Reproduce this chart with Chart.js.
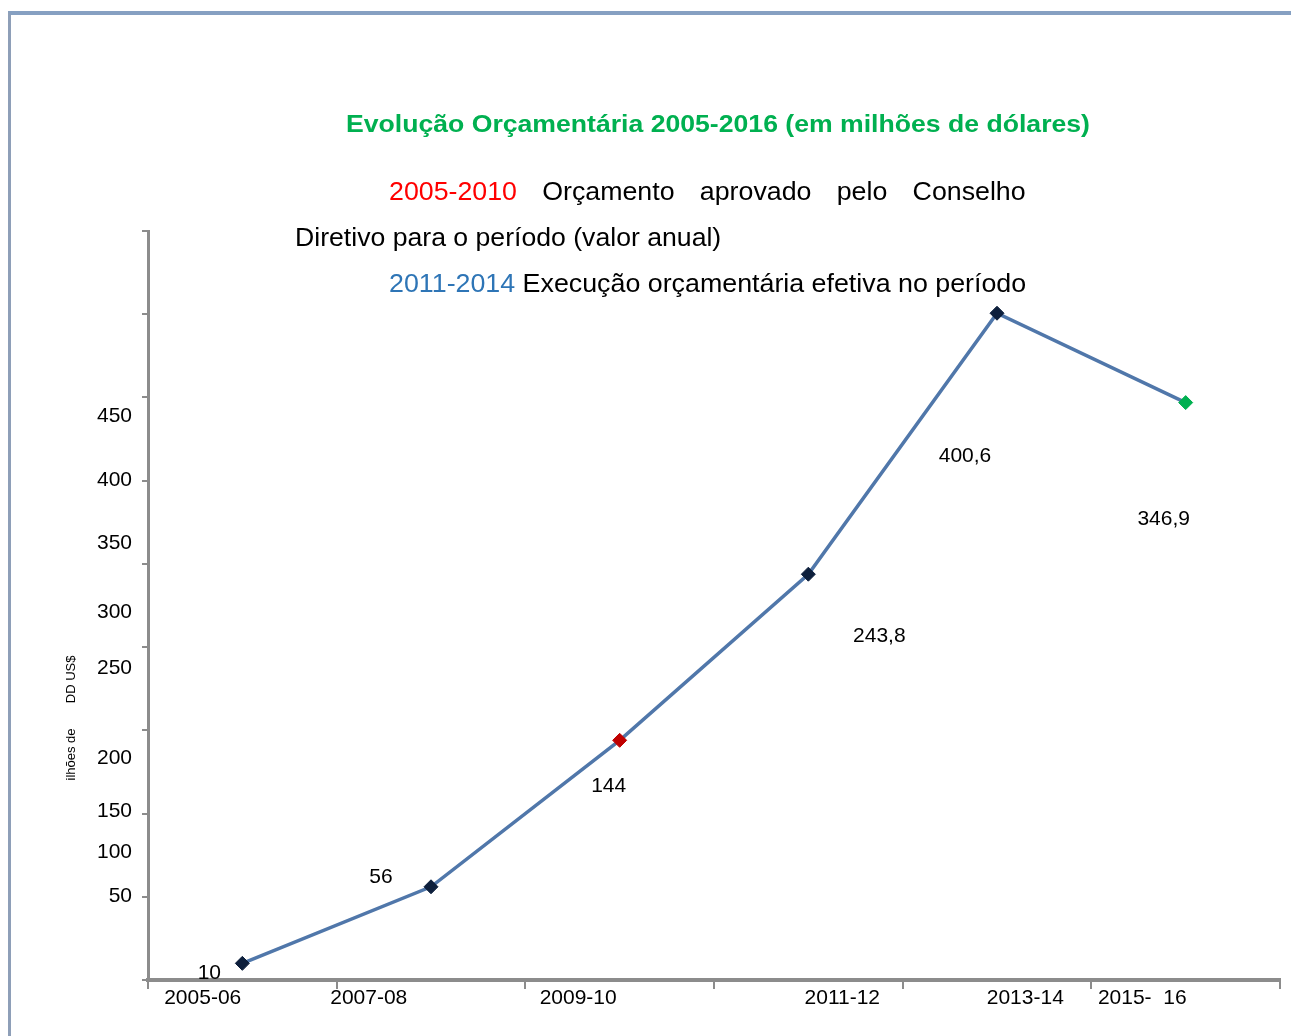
<!DOCTYPE html>
<html>
<head>
<meta charset="utf-8">
<script src="https://cdn.jsdelivr.net/npm/chart.js@4.4.1/dist/chart.umd.min.js"></script>
<style>
  html, body { margin: 0; padding: 0; background: #fff; }
  body { width: 1291px; height: 1036px; position: relative; overflow: hidden;
         font-family: "Liberation Sans", Arial, sans-serif; }
  #frame { position: absolute; left: 8px; top: 11px; right: -10px; bottom: -10px;
           border-top: 4px solid #86a0c2; border-left: 3px solid #8e9fb8; }
  #chart { position: absolute; left: 0; top: 0; }
  .txt { position: absolute; white-space: nowrap; color: #000; transform-origin: 0 50%; }
  #title { left: 346px; top: 111px; font-size: 23px; font-weight: bold; color: #00b050;
           transform: scaleX(1.157); }
  #line1 { left: 389px; width: 595px; top: 177px; font-size: 25px;
           display: flex; justify-content: space-between; transform: scaleX(1.07); }
  #line2 { left: 295px; top: 223px; font-size: 25px; transform: scaleX(1.065); }
  #line3 { left: 389px; top: 269px; font-size: 25px; transform: scaleX(1.072); }
  .red { color: #ff0000; }
  .blue { color: #2e75b6; }
</style>
</head>
<body>
<div id="frame"></div>
<canvas id="chart" width="1291" height="1036"></canvas>
<div class="txt" id="title">Evolução Orçamentária 2005-2016 (em milhões de dólares)</div>
<div class="txt" id="line1"><span class="red">2005-2010</span><span>Orçamento</span><span>aprovado</span><span>pelo</span><span>Conselho</span></div>
<div class="txt" id="line2">Diretivo para o período (valor anual)</div>
<div class="txt" id="line3"><span class="blue">2011-2014</span> Execução orçamentária efetiva no período</div>
<script>
// chart data
const categories = ['2005-06', '2007-08', '2009-10', '2011-12', '2013-14', '2015-16'];
const budget = [10, 56, 144, 243.8, 400.6, 346.9];
const xTickLabels = ['2005-06', '2007-08', '2009-10', '2011-12', '2013-14', '2015-  16'];
const yTickLabels = ['50', '100', '150', '200', '250', '300', '350', '400', '450'];
const yAxisTitle = 'ilhões de       DD US$';

// marker colours per period
const pointColors = ['#0d1f3c', '#0d1f3c', '#c00000', '#0d1f3c', '#0d1f3c', '#00b050'];

// the original labels sit off their ticks; these place them (axis units / px offsets)
const yLabelAt = [50.5, 77, 101.5, 133.5, 187.5, 221, 262.5, 300, 339];
const xLabelAt = [-0.21, 0.67, 1.78, 3.18, 4.15, 4.77];
const valueLabelShift = [[-33, 10], [-50, -10], [-11, 46], [71, 62], [-32, 143], [-22, 117]];

const FONT = '"Liberation Sans", Arial, sans-serif';
const AXIS_GREY = '#8c8c8c';

const labelsPlugin = {
  id: 'looseLabels',
  afterDraw(chart) {
    const { ctx, scales: { x, y } } = chart;
    ctx.save();
    ctx.fillStyle = '#000';
    ctx.font = '21px ' + FONT;
    ctx.textBaseline = 'middle';

    // y tick labels
    ctx.textAlign = 'right';
    yTickLabels.forEach((t, i) => ctx.fillText(t, 132, y.getPixelForValue(yLabelAt[i])));

    // x tick labels
    ctx.textAlign = 'center';
    xTickLabels.forEach((t, i) => ctx.fillText(t, x.getPixelForValue(xLabelAt[i]), y.bottom + 18));

    // value labels
    const meta = chart.getDatasetMeta(0);
    meta.data.forEach((pt, i) => {
      const txt = String(budget[i]).replace('.', ',');
      ctx.fillText(txt, pt.x + valueLabelShift[i][0], pt.y + valueLabelShift[i][1]);
    });

    // rotated axis title
    ctx.font = '13px ' + FONT;
    ctx.translate(71, 718);
    ctx.rotate(-Math.PI / 2);
    ctx.fillText(yAxisTitle, 0, 0);
    ctx.restore();
  }
};

new Chart(document.getElementById('chart'), {
  type: 'line',
  data: {
    labels: categories,
    datasets: [{
      data: budget,
      borderColor: '#5077aa',
      borderWidth: 3.5,
      tension: 0,
      pointStyle: 'rectRot',
      pointRadius: 7,
      pointBackgroundColor: pointColors,
      pointBorderColor: pointColors,
      pointBorderWidth: 1,
      clip: false,
    }]
  },
  options: {
    responsive: false,
    animation: false,
    layout: { padding: { left: 138, right: 11, top: 231, bottom: 46 } },
    plugins: {
      legend: { display: false },
      tooltip: { enabled: false },
    },
    scales: {
      x: {
        type: 'category',
        offset: true,
        ticks: { display: false },
        grid: { offset: true, drawOnChartArea: false, drawTicks: true, tickLength: 9,
                color: AXIS_GREY, lineWidth: 2 },
        border: { color: AXIS_GREY, width: 4 },
        afterFit: (s) => { s.height = 10; },
      },
      y: {
        min: 0,
        max: 450,
        ticks: { display: false, stepSize: 50 },
        grid: { drawOnChartArea: false, drawTicks: true, tickLength: 6,
                color: AXIS_GREY, lineWidth: 2 },
        border: { color: AXIS_GREY, width: 3 },
        afterFit: (s) => { s.width = 10; },
      },
    },
  },
  plugins: [labelsPlugin],
});
</script>
</body>
</html>
